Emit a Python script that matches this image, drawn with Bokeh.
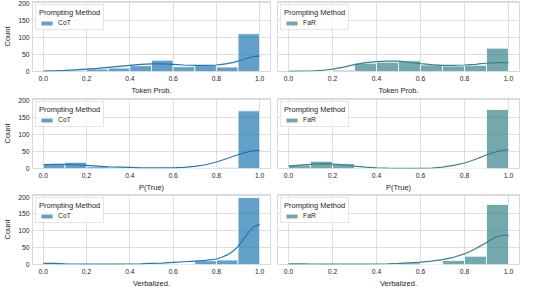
from bokeh.plotting import figure
from bokeh.layouts import column, row
from bokeh.models import (Legend, LegendItem, FixedTicker, Range1d,
                          NumeralTickFormatter, ColumnDataSource)
from bokeh.embed import file_html
from bokeh.resources import INLINE

# ---------------- data ----------------
bin_edges = [0.0, 0.1, 0.2, 0.3, 0.4, 0.5, 0.6, 0.7, 0.8, 0.9, 1.0]
x_ticks = [0.0, 0.2, 0.4, 0.6, 0.8, 1.0]
y_ticks = [0, 50, 100, 150, 200]
methods = ["CoT", "FaR"]
metrics = ["Token Prob.", "P(True)", "Verbalized."]

# histogram counts per 0.1 bin
cot_token_counts = [1, 3, 7, 10, 17, 33, 14, 19, 13, 110]
far_token_counts = [0, 0, 4, 24, 27, 31, 19, 16, 18, 68]
cot_ptrue_counts = [14, 18, 5, 1, 0, 0, 0, 1, 2, 168]
far_ptrue_counts = [10, 21, 14, 1, 0, 0, 0, 0, 0, 172]
cot_verbal_counts = [4, 1, 0, 0, 0, 1, 1, 11, 13, 195]
far_verbal_counts = [3, 1, 0, 0, 0, 5, 0, 12, 24, 175]

# KDE curve values (in count units) read at these positions
kde_x = [0.00, 0.05, 0.10, 0.15, 0.20, 0.25, 0.30, 0.35, 0.40, 0.45, 0.50,
         0.55, 0.60, 0.65, 0.70, 0.75, 0.80, 0.825, 0.85, 0.875, 0.90,
         0.925, 0.95, 0.975, 1.00]
cot_token_kde = [1, 2, 3, 5, 7, 9, 12, 15, 18, 21, 22, 22, 21, 19, 18, 18,
                 19, 21, 23, 26, 30, 35, 40, 44, 45]
far_token_kde = [0.5, 1, 1.5, 3, 7, 13, 20, 26, 29, 30, 30, 27, 23, 20, 18,
                 18, 19, 20, 21, 23, 24, 25, 26, 26, 26]
cot_ptrue_kde = [11, 12, 12, 11, 9, 7, 5, 4, 3, 2, 2, 2, 2, 3, 6, 11, 19,
                 24, 29, 35, 40, 45, 49, 52, 53]
far_ptrue_kde = [7, 10, 12, 14, 13, 11, 7, 4, 2, 1, 0.5, 0.5, 0.5, 1, 4, 9,
                 16, 21, 27, 33, 40, 45, 50, 53, 54]
cot_verbal_kde = [3, 3, 2, 1.5, 1, 1, 1, 1, 1.5, 2, 3, 4, 6, 8, 10, 12, 16,
                  21, 28, 38, 52, 73, 95, 111, 117]
far_verbal_kde = [2, 2, 1.5, 1, 1, 1, 1, 1, 1.5, 2, 3, 5, 7, 10, 14, 21, 31,
                  38, 46, 55, 64, 74, 82, 86, 84]

counts = {
    ("CoT", "Token Prob."): cot_token_counts,
    ("FaR", "Token Prob."): far_token_counts,
    ("CoT", "P(True)"): cot_ptrue_counts,
    ("FaR", "P(True)"): far_ptrue_counts,
    ("CoT", "Verbalized."): cot_verbal_counts,
    ("FaR", "Verbalized."): far_verbal_counts,
}
kdes = {
    ("CoT", "Token Prob."): cot_token_kde,
    ("FaR", "Token Prob."): far_token_kde,
    ("CoT", "P(True)"): cot_ptrue_kde,
    ("FaR", "P(True)"): far_ptrue_kde,
    ("CoT", "Verbalized."): cot_verbal_kde,
    ("FaR", "Verbalized."): far_verbal_kde,
}

# ---------------- style ----------------
COLORS = {"CoT": "#1f77b4", "FaR": "#38838a"}
FONT = "Liberation Sans"
TEXT = "#262626"
GRID = "#d9d9d9"


def make_panel(method, metric, col, row_idx):
    is_left = col == 0
    color = COLORS[method]
    p = figure(width=273 if is_left else 249,
               height=97 if row_idx < 2 else 96,
               output_backend="svg", toolbar_location=None,
               x_range=Range1d(-0.05, 1.05), y_range=Range1d(0, 204),
               min_border_left=26 if is_left else 4, min_border_right=3,
               min_border_top=1 if row_idx < 2 else 0, min_border_bottom=23)
    p.background_fill_color = "white"
    p.border_fill_color = "white"
    p.outline_line_color = GRID
    p.outline_line_width = 1

    src = ColumnDataSource(dict(left=bin_edges[:-1], right=bin_edges[1:],
                                top=counts[(method, metric)]))
    bars = p.quad(left="left", right="right", top="top", bottom=0, source=src,
                  fill_color=color, fill_alpha=0.7,
                  line_color="white", line_width=0.8)
    p.line(kde_x, kdes[(method, metric)], line_color=color, line_width=1.2)

    # axes
    p.xaxis.ticker = FixedTicker(ticks=x_ticks)
    p.xaxis.formatter = NumeralTickFormatter(format="0.0")
    p.yaxis.ticker = FixedTicker(ticks=y_ticks)
    for ax in (p.xaxis[0], p.yaxis[0]):
        ax.axis_line_color = None
        ax.major_tick_line_color = None
        ax.minor_tick_line_color = None
        ax.major_tick_out = 0
        ax.major_tick_in = 0
        ax.major_label_text_font = FONT
        ax.major_label_text_font_size = "6.8px"
        ax.major_label_text_color = TEXT
        ax.axis_label_text_font = FONT
        ax.axis_label_text_font_size = "7.5px"
        ax.axis_label_text_font_style = "normal"
        ax.axis_label_text_color = TEXT
        ax.major_label_standoff = 3
        ax.axis_label_standoff = 3
    p.xaxis.axis_label = metric
    p.xaxis.major_label_standoff = 4
    p.xaxis.axis_label_standoff = 2
    if is_left:
        p.yaxis.axis_label = "Count"
    else:
        p.yaxis.visible = False

    p.xgrid.grid_line_color = GRID
    p.ygrid.grid_line_color = GRID
    p.xgrid.grid_line_width = 0.9
    p.ygrid.grid_line_width = 0.9

    legend = Legend(items=[LegendItem(label=method, renderers=[bars])],
                    location="top_left", title="Prompting Method")
    legend.title_text_font = FONT
    legend.title_text_font_size = "7.5px"
    legend.title_text_font_style = "normal"
    legend.title_text_color = TEXT
    legend.title_standoff = 2
    legend.label_text_font = FONT
    legend.label_text_font_size = "6.8px"
    legend.label_text_color = TEXT
    legend.label_height = 7
    legend.label_standoff = 4
    legend.glyph_width = 15
    legend.glyph_height = 6
    legend.padding = 3
    legend.spacing = 0
    legend.margin = 3
    legend.border_line_color = "#cccccc"
    legend.border_line_width = 0.8
    legend.background_fill_color = "white"
    legend.background_fill_alpha = 0.8
    p.add_layout(legend)
    return p


rows = []
for r, metric in enumerate(metrics):
    rows.append(row(*[make_panel(m, metric, c, r) for c, m in enumerate(methods)]))
layout = column(*rows)

open("out.html", "w").write(file_html(layout, INLINE))
